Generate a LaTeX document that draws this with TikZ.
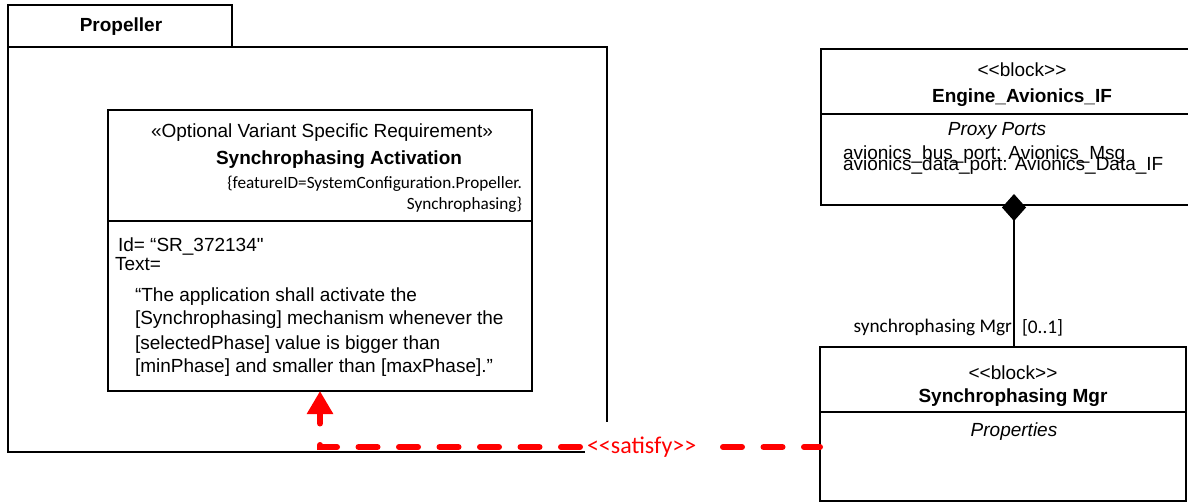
\documentclass[tikz,border=0pt]{standalone}
\usepackage{fontspec}
\setmainfont{Liberation Sans}
\newfontfamily\arialfont{Liberation Sans}
\newfontfamily\calfont{Carlito}
\usetikzlibrary{arrows.meta,calc}

\begin{document}
\begin{tikzpicture}[x=1pt,y=-1pt,
  every node/.style={inner sep=0pt, outer sep=0pt},
  frameline/.style={draw=black, line width=1.4pt},
  boxline/.style={draw=black, line width=2pt},
  txt/.style={font=\arialfont\fontsize{19}{22}\selectfont},
  txtb/.style={font=\arialfont\fontsize{19}{22}\selectfont\bfseries},
  txti/.style={font=\arialfont\fontsize{19}{22}\selectfont\itshape},
  small/.style={font=\calfont\fontsize{17.2}{19}\selectfont},
  role/.style={font=\calfont\fontsize{19.3}{21}\selectfont},
  satisfyline/.style={draw=red, line width=6pt, line cap=round,
    dash pattern=on 19pt off 21.5pt, dash phase=3pt,
    -{Triangle[length=23pt, width=25pt, sharp]}},
  satlabel/.style={font=\calfont\fontsize{24}{26}\selectfont, text=red,
    fill=white, text width=118pt, align=left, inner xsep=2pt,
    minimum height=50pt},
  composition/.style={draw=black, line width=2.2pt,
    -{Diamond[length=27pt, width=24pt, fill=black, sharp]}},
]
\useasboundingbox (0,0) rectangle (1188,502);

% package frame with its name tab
\node[frameline, anchor=north west, minimum width=599, minimum height=405] (frame) at (8,47) {};
\node[frameline, anchor=south west, minimum width=224, minimum height=42] (tab) at (8,47) {};
\node[txtb, anchor=base] (tabname) at (121,32) {Propeller};

% requirement
\node[boxline, line width=2.3pt, anchor=north west, minimum width=424, minimum height=281] (req) at (108,110) {};
\draw[boxline, line width=2.3pt] (req.west |- 0,221) -- (req.east |- 0,221);
\node[txt, anchor=base] (reqst) at (322,138) {«Optional Variant Specific Requirement»};
\node[txtb, anchor=base] (reqname) at (339,165) {Synchrophasing Activation};
\node[small, anchor=base east] (feat1) at (522,189) {\{featureID=SystemConfiguration.Propeller.};
\node[small, anchor=base east] (feat2) at (522,210) {Synchrophasing\}};
\node[txt, anchor=base west] (reqid) at (118,252) {Id= “SR\_372134"};
\node[txt, anchor=base west] (reqtext) at (115,271) {Text=};
\node[txt, anchor=base west] (l1) at (135,302) {“The application shall activate the};
\node[txt, anchor=base west] (l2) at (135,325) {[Synchrophasing] mechanism whenever the};
\node[txt, anchor=base west] (l3) at (135,349) {[selectedPhase] value is bigger than};
\node[txt, anchor=base west] (l4) at (135,372) {[minPhase] and smaller than [maxPhase].”};

% interface block
\node[boxline, anchor=north west, minimum width=386, minimum height=156] (eng) at (821,49) {};
\draw[boxline] (eng.west |- 0,114) -- (eng.east |- 0,114);
\node[txt, anchor=base] (engst) at (1022,77) {<<block>>};
\node[txtb, anchor=base] (engname) at (1022,103) {Engine\_Avionics\_IF};
\node[txti, anchor=base] (engcomp) at (997,136) {Proxy Ports};
\node[txt, anchor=base west] (port1) at (843,160) {avionics\_bus\_port: Avionics\_Msg};
\node[txt, anchor=base west] (port2) at (843,171) {avionics\_data\_port: Avionics\_Data\_IF};

% manager block
\node[boxline, anchor=north west, minimum width=366, minimum height=154] (sync) at (820,347) {};
\draw[boxline] (sync.west |- 0,412) -- (sync.east |- 0,412);
\node[txt, anchor=base] (syncst) at (1013,379) {<<block>>};
\node[txtb, anchor=base] (syncname) at (1013,402) {Synchrophasing Mgr};
\node[txti, anchor=base] (synccomp) at (1014,436) {Properties};

% composition
\coordinate (compx) at (1014,0);
\draw[composition] (sync.north -| compx) -- ($(eng.south -| compx)+(0,-11)$);
\node[role, anchor=base east] (rolename) at (1012,333) {synchrophasing Mgr};
\node[role, anchor=base west] (mult) at (1022,334) {[0..1]};

% satisfy dependency
\draw[satisfyline] ($(sync.north west)+(0,100)$) -| (req.south);
\node[satlabel, anchor=west] (satlbl) at (585,447) {<<satisfy>>};
\end{tikzpicture}
\end{document}
